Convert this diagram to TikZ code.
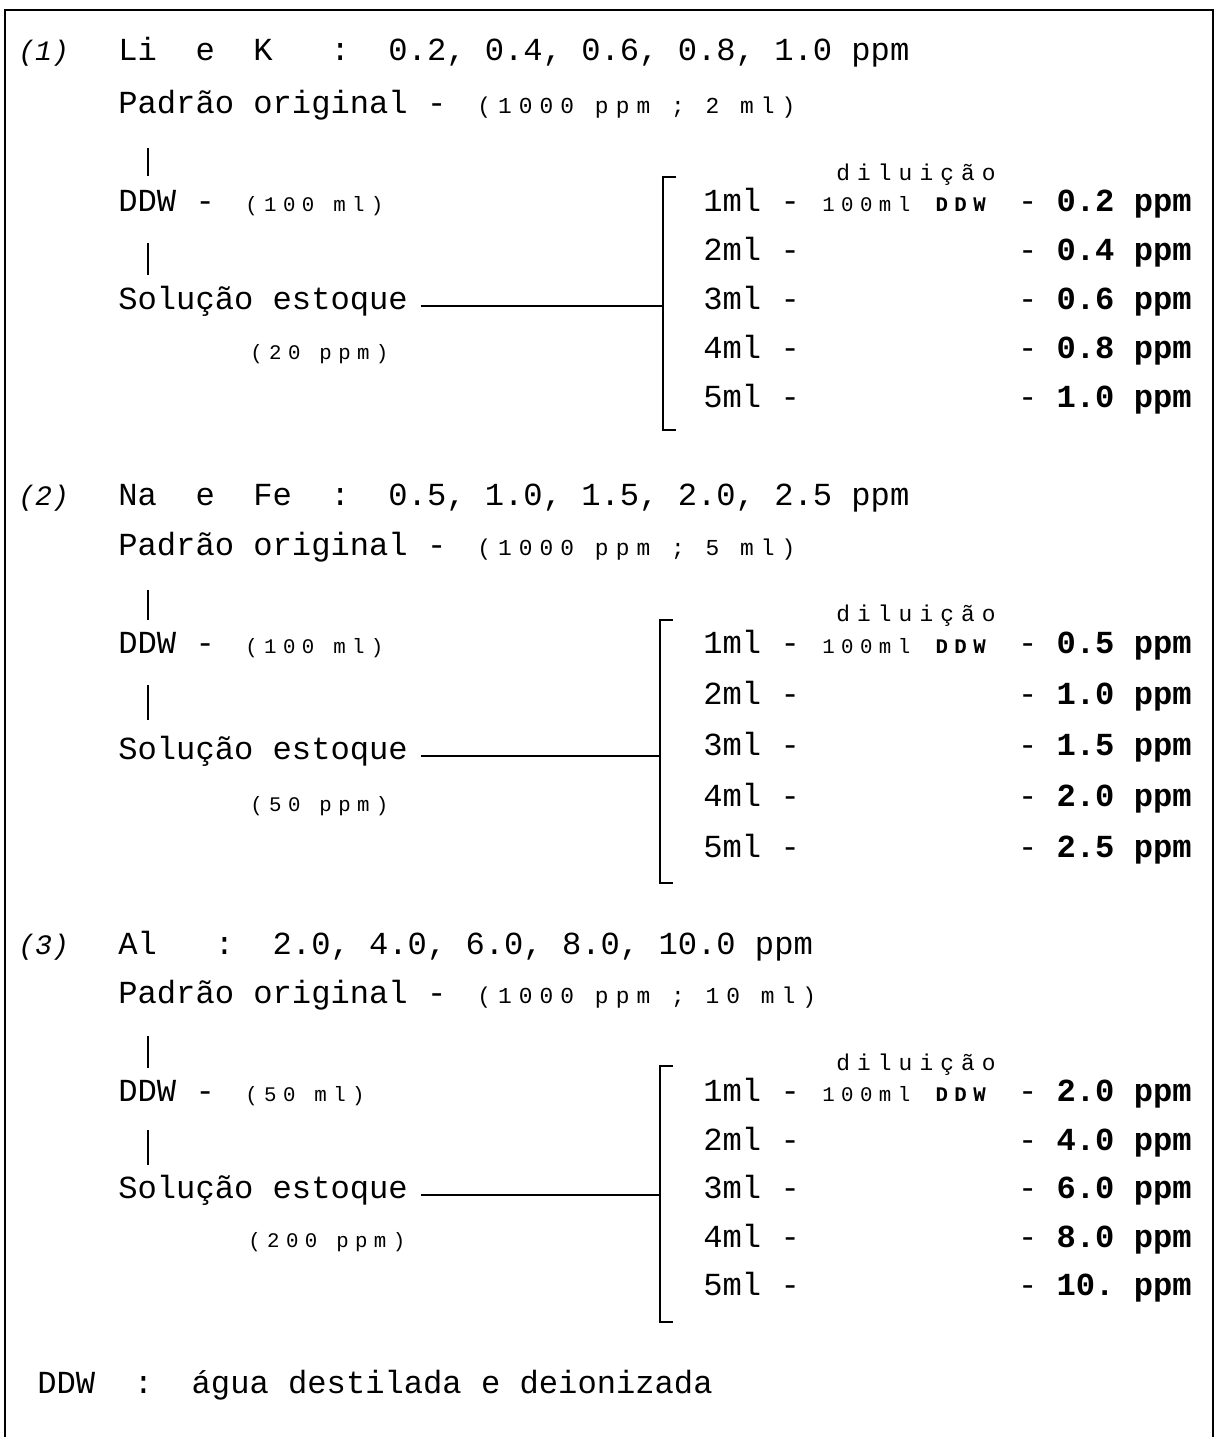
\documentclass[tikz,border=0pt]{standalone}
\usepackage{fontspec}
\setmonofont{Liberation Mono}
\newfontfamily\largo{Liberation Mono}[LetterSpace=31]
\usetikzlibrary{positioning}

\tikzset{
  txt/.style={anchor=mid west, inner sep=0pt, font=\ttfamily\fontsize{18.3}{22}\selectfont},
  sml/.style={anchor=mid west, inner sep=0pt, font=\largo\fontsize{13}{15}\selectfont},
  smler/.style={sml, font=\largo\fontsize{11.8}{14}\selectfont},
  val/.style={anchor=mid east, inner sep=0pt, font=\ttfamily\bfseries\fontsize{18.3}{22}\selectfont},
  num/.style={anchor=mid west, inner sep=0pt, font=\ttfamily\itshape\fontsize{16}{20}\selectfont},
  rule/.style={line width=1.4pt},
}

\begin{document}
\begin{tikzpicture}[x=0.02cm, y=-0.02cm]
    \useasboundingbox (0,0) rectangle (1217,1437);
    \draw[rule] (5,1437) -- (5,10) -- (1213,10) -- (1213,1437);

    \node[num] (num1) at (18,57) {(1)};
    \node[txt] (tit1) at (118,57) {Li~~e~~K~~~:~~0.2, 0.4, 0.6, 0.8, 1.0 ppm};
    \node[txt] (pad1) at (118,110) {Padrão original -};
    \node[sml] (po1) at (477,110) {(1000 ppm ; 2 ml)};
    \node[txt] (ddw1) at (118,208) {DDW -};
    \node[smler] (dv1) at (245,208) {(100 ml)};
    \node[txt] (sol1) at (118,306) {Solução estoque};
    \node[smler] (est1) at (250,356) {(20 ppm)};
    \coordinate (br1) at (663,306);
    \draw[rule] (148,148) -- (148,176);
    \draw[rule] (148,243) -- (148,275);
    \draw[rule] ([xshift=0.25cm]sol1.mid east) -- (br1);
    \draw[rule] (676,177) -- (663,177) -- (663,430) -- (676,430);
    \node[sml, anchor=mid] (dil1) at (916,177) {diluição};
    \node[smler] (dd1) at (822,208) {100ml \textbf{DDW}};
    \foreach \i/\v in {1/0.2, 2/0.4, 3/0.6, 4/0.8, 5/1.0} {
      \node[txt] (ml1\i) at (703,{208+49*(\i-1)}) {\i ml~-};
      \node[val] (pp1\i) at (1192,{208+49*(\i-1)}) {{\mdseries -}~\v~ppm};
    }

    \node[num] (num2) at (18,502) {(2)};
    \node[txt] (tit2) at (118,502) {Na~~e~~Fe~~:~~0.5, 1.0, 1.5, 2.0, 2.5 ppm};
    \node[txt] (pad2) at (118,552) {Padrão original -};
    \node[sml] (po2) at (477,552) {(1000 ppm ; 5 ml)};
    \node[txt] (ddw2) at (118,650) {DDW -};
    \node[smler] (dv2) at (245,650) {(100 ml)};
    \node[txt] (sol2) at (118,756) {Solução estoque};
    \node[smler] (est2) at (250,808) {(50 ppm)};
    \coordinate (br2) at (660,756);
    \draw[rule] (148,590) -- (148,620);
    \draw[rule] (148,685) -- (148,720);
    \draw[rule] ([xshift=0.25cm]sol2.mid east) -- (br2);
    \draw[rule] (673,620) -- (660,620) -- (660,883) -- (673,883);
    \node[sml, anchor=mid] (dil2) at (916,618) {diluição};
    \node[smler] (dd2) at (822,650) {100ml \textbf{DDW}};
    \foreach \i/\v in {1/0.5, 2/1.0, 3/1.5, 4/2.0, 5/2.5} {
      \node[txt] (ml2\i) at (703,{650+51*(\i-1)}) {\i ml~-};
      \node[val] (pp2\i) at (1192,{650+51*(\i-1)}) {{\mdseries -}~\v~ppm};
    }

    \node[num] (num3) at (18,951) {(3)};
    \node[txt] (tit3) at (118,951) {Al~~~:~~2.0, 4.0, 6.0, 8.0, 10.0 ppm};
    \node[txt] (pad3) at (118,1000) {Padrão original -};
    \node[sml] (po3) at (477,1000) {(1000 ppm ; 10 ml)};
    \node[txt] (ddw3) at (118,1098) {DDW -};
    \node[smler] (dv3) at (245,1098) {(50 ml)};
    \node[txt] (sol3) at (118,1195) {Solução estoque};
    \node[smler] (est3) at (248,1244) {(200 ppm)};
    \coordinate (br3) at (660,1195);
    \draw[rule] (148,1036) -- (148,1068);
    \draw[rule] (148,1130) -- (148,1165);
    \draw[rule] ([xshift=0.25cm]sol3.mid east) -- (br3);
    \draw[rule] (673,1066) -- (660,1066) -- (660,1322) -- (673,1322);
    \node[sml, anchor=mid] (dil3) at (916,1067) {diluição};
    \node[smler] (dd3) at (822,1098) {100ml \textbf{DDW}};
    \foreach \i/\v in {1/2.0, 2/4.0, 3/6.0, 4/8.0, 5/10.} {
      \node[txt] (ml3\i) at (703,{1098+48.5*(\i-1)}) {\i ml~-};
      \node[val] (pp3\i) at (1192,{1098+48.5*(\i-1)}) {{\mdseries -}~\v~ppm};
    }

    \node[txt] (leg) at (37,1390) {DDW~~:~~água destilada e deionizada};
\end{tikzpicture}
\end{document}
